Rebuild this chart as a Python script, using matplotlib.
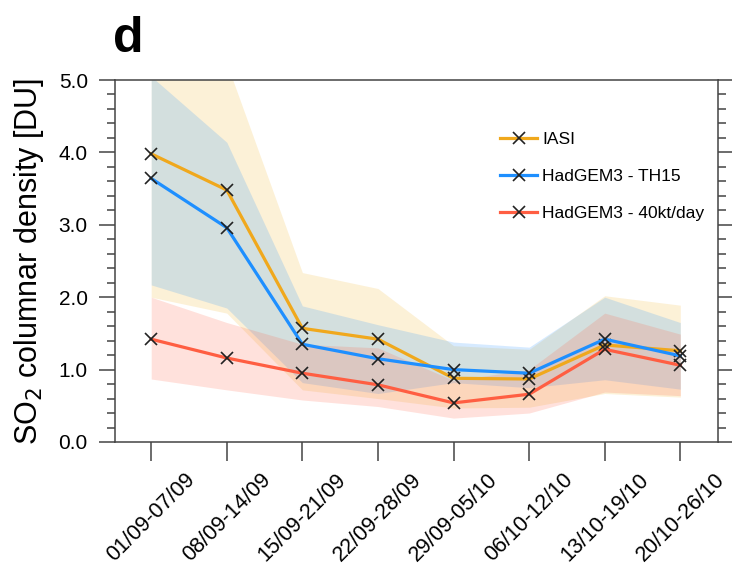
import numpy as np
import matplotlib
matplotlib.use("Agg")
import matplotlib.pyplot as plt
import matplotlib.transforms as mtransforms

plt.rcParams['font.family'] = ['Liberation Sans', 'DejaVu Sans']

weeks = ['01/09-07/09', '08/09-14/09', '15/09-21/09', '22/09-28/09',
         '29/09-05/10', '06/10-12/10', '13/10-19/10', '20/10-26/10']

# weekly means
iasi = [3.98, 3.48, 1.57, 1.42, 0.88, 0.87, 1.34, 1.26]
th15 = [3.64, 2.96, 1.35, 1.15, 1.00, 0.95, 1.42, 1.19]
kt40 = [1.42, 1.16, 0.95, 0.79, 0.54, 0.66, 1.28, 1.06]

# spread (shaded)
iasi_hi = [6.00, 5.23, 2.34, 2.12, 1.33, 1.28, 2.02, 1.89]
iasi_lo = [2.00, 1.78, 0.72, 0.60, 0.47, 0.48, 0.67, 0.62]
th15_hi = [5.05, 4.14, 1.88, 1.62, 1.38, 1.31, 2.00, 1.65]
th15_lo = [2.17, 1.85, 0.82, 0.67, 0.82, 0.75, 0.86, 0.73]
kt40_hi = [2.00, 1.65, 1.35, 1.30, 0.85, 1.00, 1.78, 1.49]
kt40_lo = [0.87, 0.72, 0.58, 0.49, 0.33, 0.40, 0.69, 0.64]

series = [
    ('IASI', iasi, iasi_lo, iasi_hi, '#F0A81C', '#F5C04A', 0.22),
    ('HadGEM3 - TH15', th15, th15_lo, th15_hi, '#1E8FFF', '#1E90FF', 0.18),
    ('HadGEM3 - 40kt/day', kt40, kt40_lo, kt40_hi, '#FF5E42', '#FF6347', 0.19),
]

x = np.arange(len(weeks))

fig = plt.figure(figsize=(7.32, 5.69), dpi=100)
ax = fig.add_axes([0.157, 0.2232, 0.824, 0.6362])

for name, m, lo, hi, lc, fc, a in series:
    ax.fill_between(x, lo, hi, color=fc, alpha=a, linewidth=0)

for name, m, lo, hi, lc, fc, a in series:
    ax.plot(x, m, '-', color=lc, lw=2.3, label=name,
            marker='x', markersize=8, markeredgecolor='#222222', markeredgewidth=1.2)

ax.set_xlim(-0.48, 7.5)
ax.set_ylim(0, 5)
ax.set_yticks(np.arange(0, 5.01, 1.0))
ax.set_yticklabels(['%.1f' % v for v in np.arange(0, 5.01, 1.0)], fontsize=15)
ax.set_yticks(np.arange(0, 5.01, 0.2), minor=True)
ax.set_xticks(x)
ax.set_xticklabels(weeks, rotation=45, ha='center', va='top', fontsize=15.5)

# nudge the slanted labels a little to the right
shift = mtransforms.ScaledTranslation(5 / 100, 0, fig.dpi_scale_trans)
for lab in ax.get_xticklabels():
    lab.set_transform(lab.get_transform() + shift)

for s in ax.spines.values():
    s.set_color('#444444')
    s.set_linewidth(1.1)

ax.tick_params(axis='y', which='major', direction='out', length=11.5, width=1.1,
               color='#444444', pad=8, right=True)
ax.tick_params(axis='y', which='minor', direction='out', length=5.8, width=1.1,
               color='#444444', right=True)
ax.tick_params(axis='x', which='major', direction='out', length=13.5, width=1.1,
               color='#444444', pad=6)
ax.tick_params(axis='x', which='minor', bottom=False)

ax.set_ylabel('SO$_2$ columnar density [DU]', fontsize=22, labelpad=9)

ax.legend(loc='upper left', bbox_to_anchor=(0.639, 0.856), frameon=False,
          fontsize=12.5, handlelength=2.1, handletextpad=0.3,
          labelspacing=1.25, borderpad=0, borderaxespad=0)

fig.text(113 / 732, 0.9086, 'd', fontsize=36, fontweight='bold', va='baseline')

fig.savefig('out.png', dpi=100)
